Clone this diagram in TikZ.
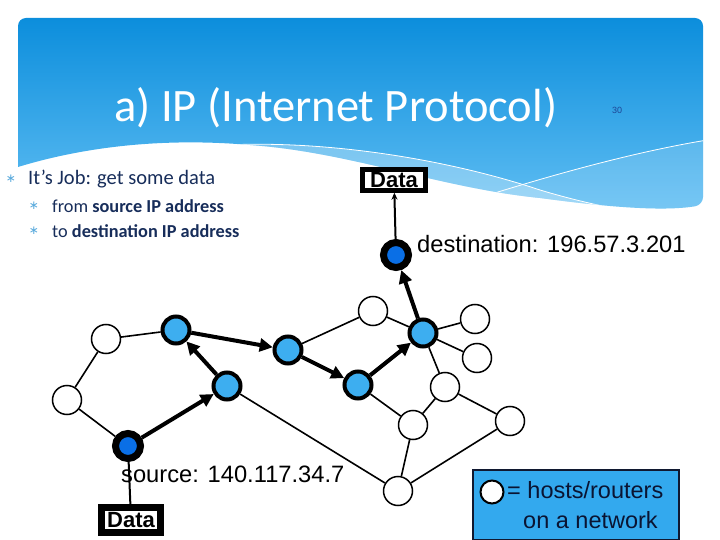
\documentclass[tikz,border=0pt]{standalone}
\usepackage{fontspec}
\setmainfont{Liberation Sans}
\newfontfamily\slidefont{Carlito}
\newfontfamily\symfont{DejaVu Sans}
\usetikzlibrary{arrows.meta}
\definecolor{nodeblue}{RGB}{61,174,240}
\definecolor{endblue}{RGB}{10,111,230}
\definecolor{legendblue}{RGB}{51,169,238}
\definecolor{legendedge}{RGB}{16,24,48}
\definecolor{hdrtop}{RGB}{12,142,220}
\definecolor{hdrbot}{RGB}{96,190,243}
\definecolor{navy}{RGB}{23,45,90}
\definecolor{bulletblue}{RGB}{90,170,220}
\definecolor{numblue}{RGB}{30,70,150}
\definecolor{legtext}{RGB}{10,20,50}
\newcommand{\hdrshape}{[rounded corners=8pt] (18,167) -- (18,18) -- (703,18) -- (703,205) [sharp corners] .. controls (660,212) and (600,206) .. (540,198) .. controls (440,188) and (350,152) .. (250,145) .. controls (170,138) and (90,145) .. (18,167) -- cycle}
\begin{document}
\begin{tikzpicture}[x=1pt,y=-1pt,
  host/.style={circle, draw=black, fill=white, line width=1.5pt, minimum size=29pt, inner sep=0pt},
  router/.style={circle, draw=black, fill=nodeblue, line width=4pt, minimum size=27pt, inner sep=0pt},
  endpt/.style={circle, draw=black, fill=endblue, line width=7pt, minimum size=25pt, inner sep=0pt},
  link/.style={draw=black, line width=1.6pt},
  flow/.style={draw=black, line width=4pt, -{Triangle[length=13pt,width=13pt]}},
  datalink/.style={draw=black, line width=2pt},
  dataarrow/.style={draw=black, line width=2pt, -{Stealth[length=7pt,width=6pt]}},
  databox/.style={draw=black, fill=white, font=\bfseries\fontsize{22}{24}\selectfont},
  bigtext/.style={anchor=base west, inner sep=0pt, font=\fontsize{23.7}{28}\selectfont},
  bulletstar/.style={text=bulletblue, inner sep=0pt, font=\symfont\fontsize{12}{12}\selectfont},
  slidetext/.style={anchor=base west, inner sep=0pt, text=navy}
]
\useasboundingbox (0,0) rectangle (720,540);

% header band
\shade[top color=hdrtop, bottom color=hdrbot] \hdrshape;
\begin{scope}
  \clip \hdrshape;
  \fill[white, opacity=0.3] (225,145) .. controls (330,140) and (450,160) .. (540,190) .. controls (600,208) and (660,218) .. (720,224) -- (720,300) -- (200,300) -- cycle;
  \fill[white, opacity=0.15] (450,207) .. controls (550,175) and (640,150) .. (720,138) -- (720,300) -- (450,300) -- cycle;
  \draw[white, line width=0.8pt] (225,145) .. controls (330,140) and (450,160) .. (540,190) .. controls (600,208) and (660,218) .. (720,224);
  \draw[white, line width=0.8pt] (450,207) .. controls (550,175) and (640,150) .. (720,138);
\end{scope}

\node[anchor=base west, inner sep=0pt, text=white, font=\slidefont\fontsize{46.5}{50}\selectfont] (title) at (114,122) {a) IP (Internet Protocol)};
\node[text=numblue, inner sep=0pt, font=\fontsize{9}{10}\selectfont] (pagenum) at (617,110) {30};

% bullets
\node[bulletstar] (s0) at (11,179) {∗};
\node[slidetext, font=\slidefont\fontsize{20.5}{24}\selectfont] (job) at (28,185) {It’s Job: get some data};
\node[bulletstar] (s1) at (34,206) {∗};
\node[slidetext, font=\slidefont\fontsize{18.3}{22}\selectfont] (from) at (52,212) {from \textbf{source IP address}};
\node[bulletstar] (s2) at (34,231) {∗};
\node[slidetext, font=\slidefont\fontsize{18.3}{22}\selectfont] (to) at (52,237) {to \textbf{destination IP address}};

% network nodes
\node[host] (W1) at (106,339) {};
\node[host] (W2) at (67,400) {};
\node[endpt] (S) at (128,446) {};
\node[router] (B1) at (176,330) {};
\node[router] (B2) at (227,386) {};
\node[router] (B3) at (288,350) {};
\node[router] (B4) at (358,385) {};
\node[host] (T) at (373,311) {};
\node[endpt] (D) at (396,255) {};
\node[router] (B5) at (423,333) {};
\node[host] (R1) at (475,319) {};
\node[host] (R2) at (477,358) {};
\node[host] (M) at (445,387) {};
\node[host] (L) at (413,425) {};
\node[host] (F) at (510,421) {};
\node[host] (Bt) at (398,491) {};

% data boxes
\node[databox, line width=5pt, inner xsep=8pt, inner ysep=2.5pt] (dtop) at (394,180) {Data};
\node[databox, line width=7pt, inner xsep=6pt, inner ysep=5pt] (dbot) at (131,520) {Data};

% thin links
\draw[link] (W1) -- (B1);
\draw[link] (W1) -- (W2);
\draw[link] (W2) -- (S);
\draw[link] (B3) -- (T);
\draw[link] (T) -- (B5);
\draw[link] (B5) -- (R1);
\draw[link] (B5) -- (R2);
\draw[link] (B5) -- (M);
\draw[link] (M) -- (F);
\draw[link] (M) -- (L);
\draw[link] (B4) -- (L);
\draw[link] (L) -- (Bt);
\draw[link] (Bt) -- (F);
\draw[link] (B2) -- (Bt);

% route
\draw[flow] (S) -- (B2);
\draw[flow] (B2) -- (B1);
\draw[flow] (B1) -- (B3);
\draw[flow] (B3) -- (B4);
\draw[flow] (B4) -- (B5);
\draw[flow] (B5) -- (D);

% data connectors
\draw[dataarrow] (D) -- (dtop);
\draw[datalink] (S) -- (dbot);

% labels
\node[bigtext] (srclabel) at (121,482) {source: 140.117.34.7};
\node[bigtext] (dstlabel) at (417,252) {destination: 196.57.3.201};

% legend
\node[draw=legendedge, fill=legendblue, line width=1.5pt, anchor=north west, minimum width=206pt, minimum height=70pt, inner sep=0pt] (legend) at (472,469) {};
\node[circle, draw=black, fill=white, line width=2pt, minimum size=23pt, inner sep=0pt] (legcircle) at (492,492) {};
\node[bigtext, text=legtext, font=\fontsize{23.5}{28}\selectfont] (leg1) at (507,498) {= hosts/routers};
\node[bigtext, text=legtext, font=\fontsize{23.5}{28}\selectfont] (leg2) at (523,528) {on a network};
\end{tikzpicture}
\end{document}
